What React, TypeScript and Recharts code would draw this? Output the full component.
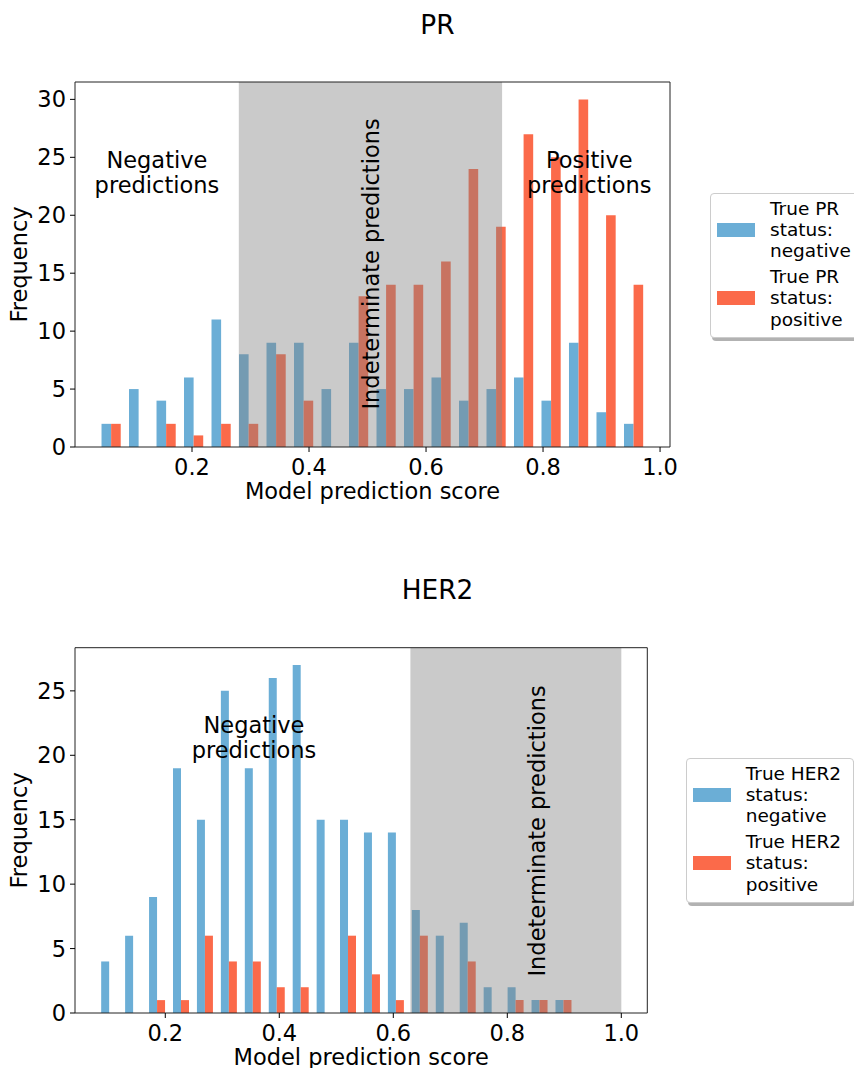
import { Bar, ComposedChart, Label, Legend, ReferenceArea, ReferenceDot, XAxis, YAxis } from 'recharts';

const FONT = '"DejaVu Sans", sans-serif';
const FS = 22.5;
const BLUE = '#6baed6';
const RED = '#fb6a4a';

// PR histogram (20 bins)
const prBins = [0.062, 0.109, 0.156, 0.203, 0.250, 0.297, 0.344, 0.391, 0.438, 0.485,
  0.532, 0.579, 0.626, 0.673, 0.720, 0.767, 0.814, 0.861, 0.908, 0.955];
const prNegative = [2, 5, 4, 6, 11, 8, 9, 9, 5, 9, 5, 5, 6, 4, 5, 6, 4, 9, 3, 2];
const prPositive = [2, 0, 2, 1, 2, 2, 8, 4, 0, 13, 14, 14, 16, 24, 19, 27, 25, 30, 20, 14];

// HER2 histogram (20 bins)
const her2Bins = [0.101, 0.143, 0.185, 0.227, 0.269, 0.311, 0.353, 0.395, 0.437, 0.479,
  0.520, 0.562, 0.604, 0.646, 0.688, 0.730, 0.772, 0.814, 0.856, 0.898];
const her2Negative = [4, 6, 9, 19, 15, 25, 19, 26, 27, 15, 15, 14, 14, 8, 6, 7, 2, 2, 1, 1];
const her2Positive = [0, 0, 1, 1, 6, 4, 4, 2, 2, 0, 6, 3, 1, 6, 0, 4, 0, 1, 1, 1];

const xTicks = [0.2, 0.4, 0.6, 0.8, 1.0];
const prYTicks = [0, 5, 10, 15, 20, 25, 30];
const her2YTicks = [0, 5, 10, 15, 20, 25];

const stacked = (lines: string[]) => (props: any) => {
  const vb = props.viewBox;
  const cx = vb.x + vb.width / 2;
  const cy = vb.y + vb.height / 2;
  const lh = 25.5;
  const first = cy - ((lines.length - 1) * lh) / 2;
  return (
    <text textAnchor="middle" fontSize={FS} fontFamily={FONT} fill="#000">
      {lines.map((l, i) => (
        <tspan key={i} x={cx} y={first + i * lh}>{l}</tspan>
      ))}
    </text>
  );
};

const rotated = (text: string) => (props: any) => {
  const vb = props.viewBox;
  const bx = vb.x + vb.width / 2 + 5;
  const cy = vb.y + vb.height / 2;
  return (
    <text x={bx} y={cy} transform={`rotate(-90 ${bx} ${cy})`} textAnchor="middle" fontSize={FS} fontFamily={FONT} fill="#000">
      {text}
    </text>
  );
};

const legendBox = (labels: string[][]) => (props: any) => (
  <div style={{
    width: 160, background: '#fff', border: '1px solid #cccccc', borderRadius: 4,
    boxShadow: '2px 3px 0 rgba(0,0,0,0.3)', padding: '4px 0 7px 6px', fontFamily: FONT,
    fontSize: 18.5, lineHeight: '21.3px', color: '#000',
  }}>
    {(props.payload || []).map((entry: any, i: number) => (
      <div key={i} style={{ display: 'flex', alignItems: 'center', marginTop: i ? 4.5 : 0 }}>
        <span style={{ width: 38, height: 14, background: entry.color, marginRight: 15, flex: 'none' }} />
        <div>{labels[i].map((l, j) => <div key={j} style={{ whiteSpace: 'nowrap' }}>{l}</div>)}</div>
      </div>
    ))}
  </div>
);

type PanelProps = {
  top: number; height: number; margin: any; xAxisHeight: number;
  bins: number[]; negative: number[]; positive: number[];
  xDomain: [number, number]; yMax: number; yTicks: number[]; barSize: number;
  region: [number, number]; legendLeft: number; legendTop: number; legendLabels: string[][];
  notes: { x: number; y: number; lines: string[] }[]; vertical: { x: number; y: number };
};

function Panel(p: PanelProps) {
  const data = p.bins.map((x, i) => ({ x, neg: p.negative[i], pos: p.positive[i] }));
  return (
    <div style={{ position: 'absolute', left: 0, top: p.top }}>
      <ComposedChart width={854} height={p.height} data={data} margin={p.margin} barGap={0}>
        <XAxis
          type="number" dataKey="x" domain={p.xDomain} allowDataOverflow ticks={xTicks}
          tickFormatter={(v: number) => v.toFixed(1)} axisLine={false} tickSize={5} tickMargin={7}
          tickLine={{ stroke: '#000' }} tick={{ fill: '#000', fontSize: FS, fontFamily: FONT }}
          height={p.xAxisHeight}
        >
          <Label content={(lp: any) => (
            <text x={lp.viewBox.x + lp.viewBox.width / 2} y={lp.viewBox.y + 52} textAnchor="middle" fontSize={FS} fontFamily={FONT} fill="#000">
              Model prediction score
            </text>
          )} />
        </XAxis>
        <YAxis
          type="number" domain={[0, p.yMax]} allowDataOverflow ticks={p.yTicks} width={75}
          axisLine={false} tickSize={5} tickMargin={4} tickLine={{ stroke: '#000' }}
          tick={{ fill: '#000', fontSize: FS, fontFamily: FONT }}
        >
          <Label content={(lp: any) => {
            const x = 26.7;
            const y = lp.viewBox.y + lp.viewBox.height / 2;
            return (
              <text x={x} y={y} transform={`rotate(-90 ${x} ${y})`} textAnchor="middle" fontSize={FS} fontFamily={FONT} fill="#000">
                Frequency
              </text>
            );
          }} />
        </YAxis>
        <Bar dataKey="neg" name="negative" fill={BLUE} barSize={p.barSize} isAnimationActive={false} />
        <Bar dataKey="pos" name="positive" fill={RED} barSize={p.barSize} isAnimationActive={false} />
        <ReferenceArea x1={p.region[0]} x2={p.region[1]} fill="#808080" fillOpacity={0.42} stroke="none" ifOverflow="visible" zIndex={450} />
        <ReferenceArea x1={p.xDomain[0]} x2={p.xDomain[1]} y1={0} y2={p.yMax} fill="none" stroke="#222" strokeWidth={1} ifOverflow="visible" zIndex={460} />
        {p.notes.map((n, i) => (
          <ReferenceDot key={i} x={n.x} y={n.y} r={0} fill="none" stroke="none" label={{ content: stacked(n.lines) }} />
        ))}
        <ReferenceDot x={p.vertical.x} y={p.vertical.y} r={0} fill="none" stroke="none" label={{ content: rotated('Indeterminate predictions') }} />
        <Legend
          layout="horizontal" align="center" verticalAlign="middle"
          wrapperStyle={{ left: p.legendLeft, top: p.legendTop }}
          content={legendBox(p.legendLabels)}
        />
      </ComposedChart>
    </div>
  );
}

export default function App() {
  return (
    <div style={{ position: 'absolute', left: 0, top: 0, width: 854, height: 1068, overflow: 'hidden', background: '#fff', fontFamily: FONT }}>
      <div style={{ position: 'absolute', left: 0, top: 12, width: 875, textAlign: 'center', fontSize: 26.4, lineHeight: '26px' }}>PR</div>
      <div style={{ position: 'absolute', left: 0, top: 577, width: 875, textAlign: 'center', fontSize: 26.4, lineHeight: '26px' }}>HER2</div>
      <Panel
        top={0} height={520} margin={{ top: 82, right: 184, bottom: 0, left: 0 }} xAxisHeight={73}
        bins={prBins} negative={prNegative} positive={prPositive}
        xDomain={[0, 1.017]} yMax={31.5} yTicks={prYTicks} barSize={9.6}
        region={[0.28, 0.73]} legendLeft={710} legendTop={192.7}
        legendLabels={[['True PR', 'status:', 'negative'], ['True PR', 'status:', 'positive']]}
        notes={[{ x: 0.14, y: 23, lines: ['Negative', 'predictions'] }, { x: 0.879, y: 23, lines: ['Positive', 'predictions'] }]}
        vertical={{ x: 0.511, y: 15.8 }}
      />
      <Panel
        top={560} height={508} margin={{ top: 87.7, right: 206.7, bottom: 0, left: 0 }} xAxisHeight={55}
        bins={her2Bins} negative={her2Negative} positive={her2Positive}
        xDomain={[0.0416, 1.0456]} yMax={28.35} yTicks={her2YTicks} barSize={8}
        region={[0.63, 1.0]} legendLeft={685.7} legendTop={197.7}
        legendLabels={[['True HER2', 'status:', 'negative'], ['True HER2', 'status:', 'positive']]}
        notes={[{ x: 0.3556, y: 20.75, lines: ['Negative', 'predictions'] }]}
        vertical={{ x: 0.8574, y: 14.13 }}
      />
    </div>
  );
}
